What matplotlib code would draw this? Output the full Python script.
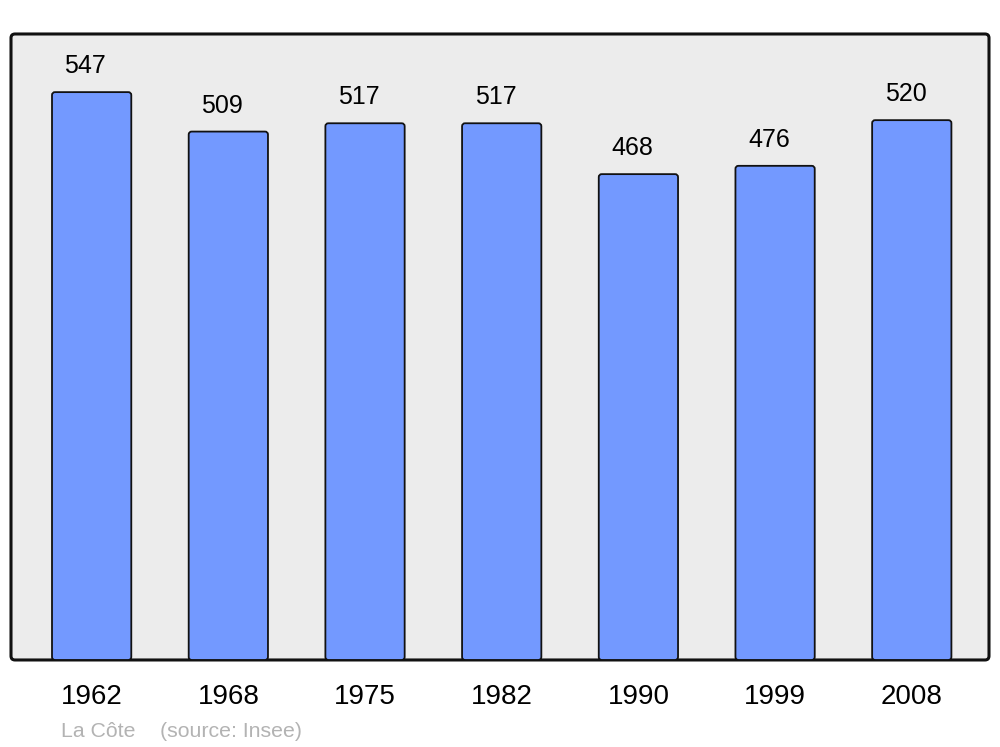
import matplotlib.pyplot as plt
from matplotlib.patches import FancyBboxPatch

plt.rcParams['font.family'] = ['Liberation Sans', 'DejaVu Sans']

# Population data
years = ["1962", "1968", "1975", "1982", "1990", "1999", "2008"]
population = [547, 509, 517, 517, 468, 476, 520]
place = "La Côte"
source = "(source: Insee)"

fig = plt.figure(figsize=(10, 7.47), dpi=100)
ax = fig.add_axes([0.011, 0.1165, 0.978, 0.838])
ax.set_facecolor('none')
ax.set_zorder(1)

# rounded frame behind the axes
frame = FancyBboxPatch((0.011, 0.1165), 0.978, 0.838,
                       boxstyle="round,pad=0,rounding_size=0.004",
                       mutation_aspect=1000 / 747,
                       transform=fig.transFigure, facecolor='#ececec',
                       edgecolor='#111111', linewidth=2.2, zorder=-1)
fig.patches.append(frame)

x = range(len(years))
bars = ax.bar(x, population, width=0.58, color='none', edgecolor='none')

# swap plain bars for slightly rounded ones
for rect in bars:
    bx, by = rect.get_x(), rect.get_y()
    bw, bh = rect.get_width(), rect.get_height()
    ax.add_patch(FancyBboxPatch((bx, by), bw, bh,
                                boxstyle="round,pad=0,rounding_size=0.022",
                                mutation_aspect=131,
                                facecolor='#7399ff', edgecolor='#111111',
                                linewidth=1.3, zorder=2))

# value labels sit a little left of the bar centre, like the original
for i, v in enumerate(population):
    ax.text(i - 0.046, v + 25, str(v), ha='center', va='center', fontsize=18)

ax.set_xlim(-0.59, 6.565)
ax.set_ylim(0, 603)
ax.set_xticks(list(x))
ax.set_xticklabels(years, fontsize=20)
ax.tick_params(axis='x', length=0, pad=17)
ax.set_yticks([])
for s in ax.spines.values():
    s.set_visible(False)

fig.text(0.061, 0.0135, place, color='#b3b3b3', fontsize=15.3, ha='left', va='baseline')
fig.text(0.160, 0.0135, source, color='#b3b3b3', fontsize=15.3, ha='left', va='baseline')

fig.savefig("out.png", dpi=100)
